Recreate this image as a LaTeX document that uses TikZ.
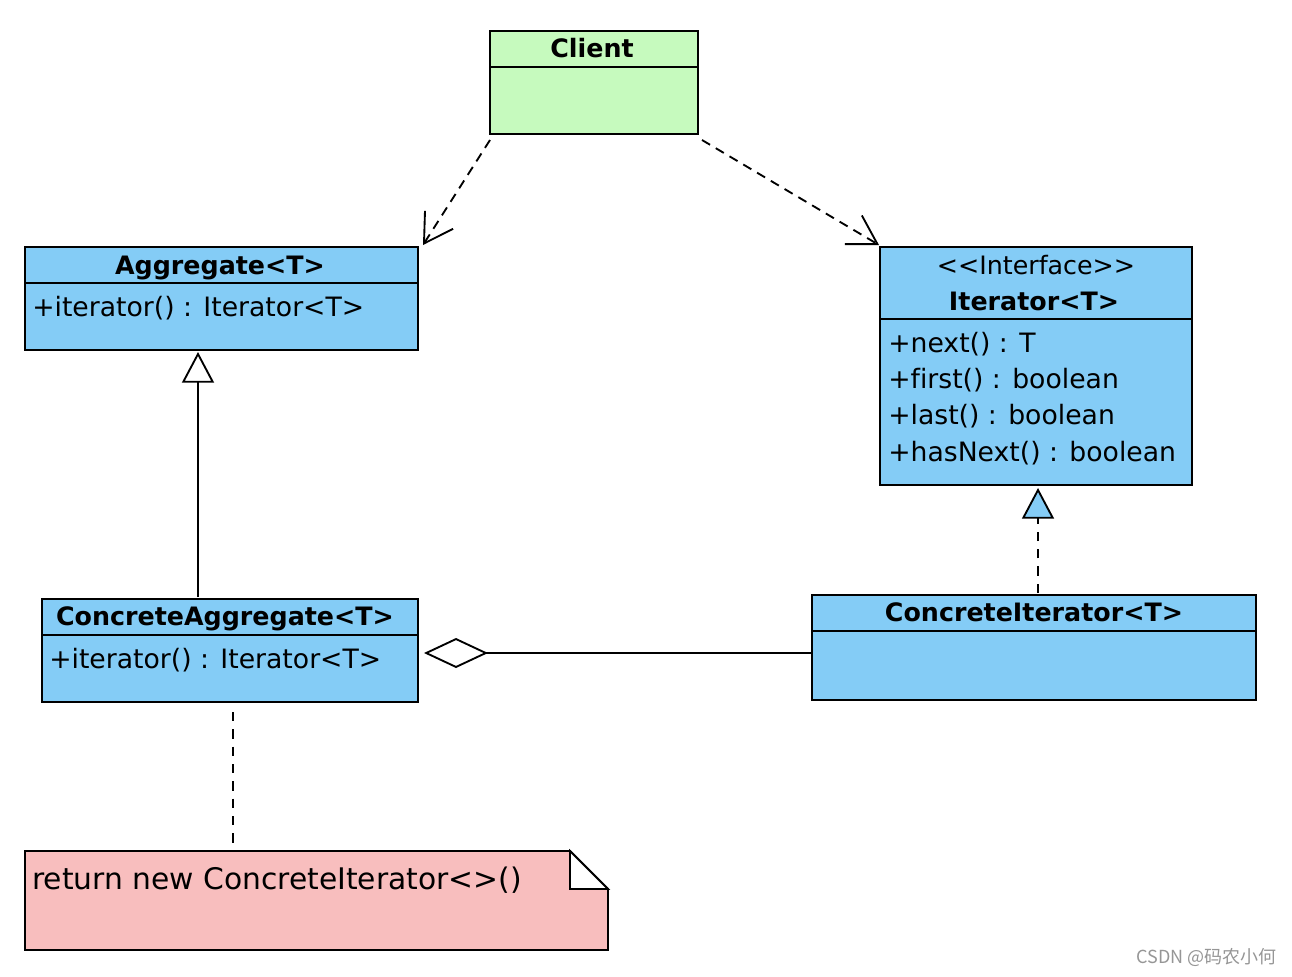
\documentclass[tikz,border=0pt]{standalone}
\usepackage{fontspec}
\setmainfont{DejaVu Sans}[Ligatures=NoCommon]
\newfontfamily\cjk{Noto Sans CJK SC}
\usetikzlibrary{arrows.meta}
\definecolor{umlblue}{RGB}{132,204,246}
\definecolor{umlgreen}{RGB}{198,250,190}
\definecolor{notepink}{RGB}{248,190,190}
\definecolor{wmgray}{RGB}{150,150,150}
\tikzset{
  cls/.style={draw=black, line width=1.4pt, inner sep=0pt, outer sep=0pt, anchor=north west},
  sep/.style={line width=1.4pt},
  title/.style={font=\fontsize{19}{22}\selectfont\bfseries, inner sep=0pt, anchor=base},
  stereo/.style={font=\fontsize{19}{22}\selectfont, inner sep=0pt, anchor=base},
  member/.style={font=\fontsize{20}{24}\selectfont, inner sep=0pt, anchor=base west},
  notetext/.style={font=\fontsize{22.3}{26}\selectfont, inner sep=0pt, anchor=base west},
  depend/.style={line width=1.4pt, dash pattern=on 7pt off 5pt, -{Straight Barb[length=21pt,width=25pt,line width=1.4pt]}},
  general/.style={line width=1.4pt, -{Triangle[open,fill=white,length=23pt,width=24pt,line width=1.4pt]}},
  realize/.style={line width=1.4pt, dash pattern=on 7pt off 6pt, -{Triangle[fill=umlblue,length=23pt,width=24pt,line width=1.4pt]}},
  aggreg/.style={line width=1.4pt, {Diamond[fill=white,length=48pt,width=22.5pt,line width=1.4pt]}-},
  notelink/.style={line width=1.4pt, dash pattern=on 7pt off 6pt},
}
\begin{document}
\begin{tikzpicture}[x=0.75pt,y=-0.75pt]
\useasboundingbox (0,0) rectangle (1292,976);
\fill[white] (0,0) rectangle (1292,976);

% Client
\node[cls, fill=umlgreen, minimum width=156pt, minimum height=77.25pt] (client) at (490,31) {};
\draw[sep] (490,67) -- (698,67);
\node[title] (clientT) at (592,57.5) {Client};

% Aggregate
\node[cls, fill=umlblue, minimum width=294.75pt, minimum height=77.25pt] (agg) at (25,247) {};
\draw[sep] (25,283) -- (418,283);
\node[title] (aggT) at (220,274.5) {Aggregate<T>};
\node[member] (aggM) at (32,316) {+iterator() : Iterator<T>};

% Iterator
\node[cls, fill=umlblue, minimum width=234pt, minimum height=178.5pt] (iter) at (880,247) {};
\draw[sep] (880,319) -- (1192,319);
\node[stereo] (iterS) at (1036,274.5) {<{}<Interface>{}>};
\node[title] (iterT) at (1034,310.5) {Iterator<T>};
\node[member] (iterM1) at (888,352) {+next() : T};
\node[member] (iterM2) at (888,388) {+first() : boolean};
\node[member] (iterM3) at (888,424) {+last() : boolean};
\node[member] (iterM4) at (888,461) {+hasNext() : boolean};

% ConcreteAggregate
\node[cls, fill=umlblue, minimum width=282pt, minimum height=77.25pt] (conagg) at (42,599) {};
\draw[sep] (42,635) -- (418,635);
\node[title] (conaggT) at (225,625.5) {ConcreteAggregate<T>};
\node[member] (conaggM) at (49,668) {+iterator() : Iterator<T>};

% ConcreteIterator
\node[cls, fill=umlblue, minimum width=333pt, minimum height=78.75pt] (coniter) at (812,595) {};
\draw[sep] (812,631) -- (1256,631);
\node[title] (coniterT) at (1034,621.5) {ConcreteIterator<T>};

% Note
\draw[line width=1.4pt, fill=notepink] (25,851) -- (570,851) -- (608,889) -- (608,950) -- (25,950) -- cycle;
\draw[line width=1.4pt, fill=white] (570,851) -- (608,889) -- (570,889) -- cycle;
\node[notetext] (noteT) at (32,889) {return new ConcreteIterator<>()};
\coordinate (notetop) at (233,851);

% Connectors
\coordinate (c1) at (490,140);
\coordinate (c2) at (702,140);
\coordinate (aggNE) at (423,245);
\coordinate (iterNW) at (879,245);
\draw[depend] (c1) -- (aggNE);
\draw[depend] (c2) -- (iterNW);

\coordinate (caTop) at (198,597);
\coordinate (aggBot) at (198,352);
\draw[general] (caTop) -- (aggBot);

\coordinate (ciTop) at (1038,593);
\coordinate (itBot) at (1038,488);
\draw[realize] (ciTop) -- (itBot);

\coordinate (diaTip) at (424,653);
\coordinate (ciLeft) at (812,653);
\draw[aggreg] (diaTip) -- (ciLeft);

\coordinate (caBot) at (233,712);
\draw[notelink] (caBot) -- (notetop);

% Watermark
\node[font=\cjk\fontsize{13.5}{16}\selectfont, text=wmgray, inner sep=0pt, anchor=east] (wm) at (1277,957) {CSDN @码农小何};
\end{tikzpicture}
\end{document}
